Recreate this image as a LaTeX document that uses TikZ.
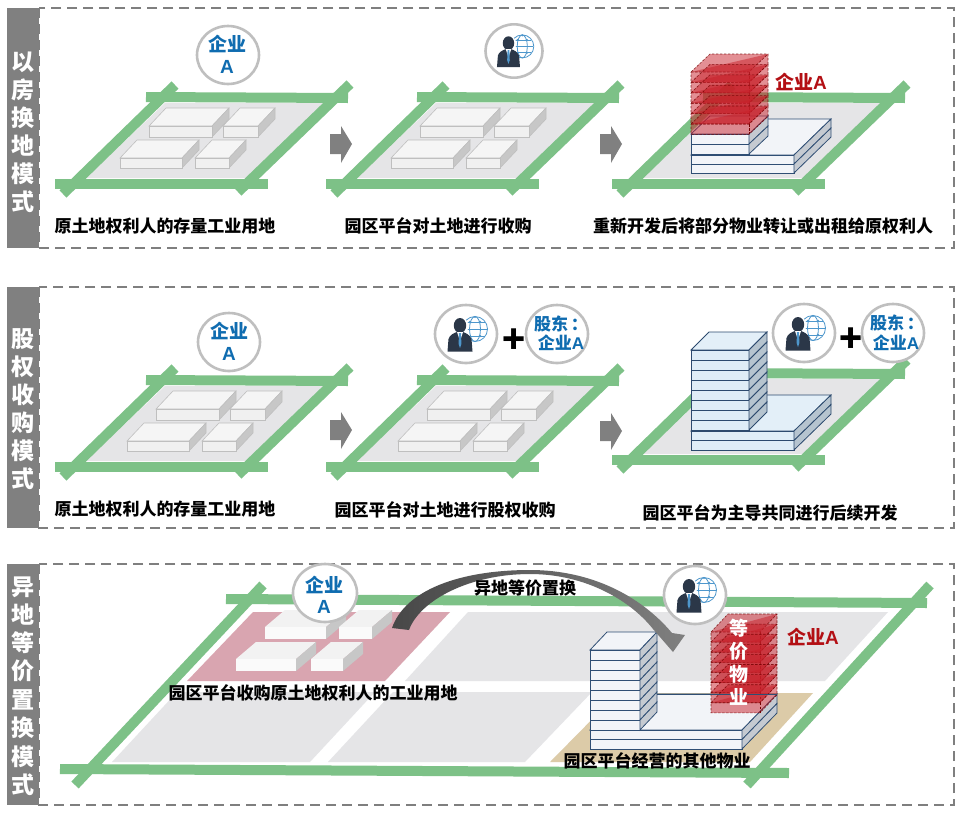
\documentclass[tikz,border=0pt]{standalone}
\usepackage{fontspec}
\setmainfont{Noto Sans CJK SC}
\newfontfamily\lat{Liberation Sans}
\usetikzlibrary{shapes.geometric}
\definecolor{road}{HTML}{7DC187}
\definecolor{plategray}{HTML}{E5E5E7}
\definecolor{sidegray}{HTML}{808080}
\definecolor{dashgray}{HTML}{7F7F7F}
\definecolor{blueT}{HTML}{0F6CB0}
\definecolor{redT}{HTML}{B30F14}
\definecolor{pinkL}{HTML}{D9A5B0}
\definecolor{tanL}{HTML}{DCCBA8}
\definecolor{bl-f}{HTML}{DFEDF7}
\definecolor{bl-t}{HTML}{E3EFF8}
\definecolor{bl-s}{HTML}{B6C4CF}
\definecolor{bl-l}{HTML}{2C4A6E}
\definecolor{wh-f}{HTML}{F2F4F8}
\definecolor{wh-t}{HTML}{F2F4F8}
\definecolor{wh-s}{HTML}{C5CAD1}
\definecolor{wh-l}{HTML}{2F4E74}
\definecolor{redF}{HTML}{C8202A}
\definecolor{person}{HTML}{2B3748}
\definecolor{globeC}{HTML}{4E97CC}
\tikzset{
  x=1pt,y=-1pt,
  roadln/.style={draw=road,line width=10pt},
  frameln/.style={draw=dashgray,line width=1.3pt,dash pattern=on 10pt off 6pt},
  sidebar/.style={fill=sidegray,draw=none},
  sidetxt/.style={text=white,font=\fontsize{23}{23}\selectfont\bfseries,inner sep=0pt},
  lbl/.style={text=black,font=\fontsize{17}{17}\selectfont\bfseries,inner sep=0pt},
  bluetxt/.style={text=blueT,font=\fontsize{19}{19}\selectfont\bfseries,inner sep=0pt},
  bluesm/.style={text=blueT,font=\fontsize{17}{17}\selectfont\bfseries,inner sep=0pt},
  redtxt/.style={text=redT,font=\fontsize{19}{19}\selectfont\bfseries,inner sep=0pt},
  plustxt/.style={text=black,font=\fontsize{38}{38}\selectfont\bfseries,inner sep=0pt},
  ring/.style={ellipse,draw=black!25,line width=2.6pt,fill=white,inner sep=0pt},
  flow/.style={fill=sidegray,draw=none},
  whface/.style={fill=#1,draw=black!25,line width=.6pt},
  redface/.style={fill=redF,fill opacity=.5,draw=red!45!black,draw opacity=.8,line width=.6pt,dash pattern=on 2.5pt off 1.5pt},
}
\newcommand{\plate}[2]{%
  \begin{scope}[shift={(#1,#2)}]
    \fill[plategray] (86,178)--(247,178)--(325,103)--(165,103)--cycle;
    \draw[roadln] (146,97)--(348,98);
    \draw[roadln] (55,184)--(268,184);
    \draw[roadln] (63,194)--(175,85);
    \draw[roadln] (238,192)--(350,84);
  \end{scope}}
\newcommand{\lowbox}[4]{%
  \filldraw[whface=black!4] (#1,#3)--({#1+17},{#3-18})--({#2+17},{#3-18})--(#2,#3)--cycle;
  \filldraw[whface=black!22] (#2,#3)--({#2+17},{#3-18})--({#2+17},{#4-18})--(#2,#4)--cycle;
  \filldraw[whface=black!6] (#1,#3) rectangle (#2,#4);}
\newcommand{\lots}[2]{%
  \begin{scope}[shift={(#1,#2)}]
    \lowbox{149}{212}{126}{137}\lowbox{223}{258}{126}{137}
    \lowbox{120}{182}{158}{168}\lowbox{195}{229}{158}{168}
  \end{scope}}
\newcommand{\cub}[8]{%
  \filldraw[fill=#8-t,draw=#8-l,line width=.8pt] (#1,#5)--({#1+#3},{#5-#4})--({#2+#3},{#5-#4})--(#2,#5)--cycle;
  \foreach \i in {1,...,#6}{%
    \filldraw[fill=#8-f,draw=#8-l,line width=.8pt] (#1,{#5+(\i-1)*#7}) rectangle (#2,{#5+\i*#7});
    \filldraw[fill=#8-s,draw=#8-l,line width=.8pt] (#2,{#5+(\i-1)*#7})--({#2+#3},{#5+(\i-1)*#7-#4})--({#2+#3},{#5+\i*#7-#4})--(#2,{#5+\i*#7})--cycle;
  }}
\newcommand{\redstack}[7]{%
  \foreach \i in {1,...,#6}{%
    \path[redface] (#1,{#5+(\i-1)*#7})--({#1+#3},{#5+(\i-1)*#7-#4})--({#2+#3},{#5+(\i-1)*#7-#4})--({#2+#3},{#5+\i*#7-#4})--(#2,{#5+\i*#7})--(#1,{#5+\i*#7})--cycle;
    \path[redface] (#1,{#5+(\i-1)*#7})--(#2,{#5+(\i-1)*#7})--({#2+#3},{#5+(\i-1)*#7-#4});
    \draw[red!45!black,line width=.6pt,dash pattern=on 2.5pt off 1.5pt] (#2,{#5+(\i-1)*#7})--(#2,{#5+\i*#7});
  }}
\newcommand{\personicon}[4]{%
  \node[ring,minimum width=#3*62pt,minimum height=#3*58pt] (#4) at (#1,#2) {};
  \begin{scope}[shift={(#1,#2)},scale=#3]
    \begin{scope}[globeC,line width=.8pt]
      \draw (9,-5) circle[radius=12.5];
      \draw (9,-5) ellipse[x radius=5.5,y radius=12.5];
      \draw (-3,-5)--(21,-5) (-1,-12)--(19,-12) (-1,2)--(19,2);
      \fill (9,-17) circle[radius=1.2] (14,-12) circle[radius=1.3] (14,2) circle[radius=1.3] (4,-12) circle[radius=1.3];
    \end{scope}
    \fill[white] (-6,-8) circle[radius=8.5];
    \fill[person] (-6,-8.5) ellipse[x radius=6.2,y radius=7.5];
    \fill[person] (-18.5,17.5) -- (-17.5,5) .. controls (-16.5,1) and (-12,-1) .. (-9,-2) -- (-3,-2) .. controls (0,-1) and (4,1) .. (5.5,5) -- (6.5,17.5) -- cycle;
    \fill[white] (-9,-2)--(-6,7)--(-3,-2)--cycle;
    \fill[globeC] (-7,-1)--(-5,-1)--(-4.6,10)--(-6,14)--(-7.4,10)--cycle;
  \end{scope}}
\newcommand{\flowarrow}[2]{%
  \fill[flow] (#1,{#2-10})--({#1+11},{#2-10})--({#1+11},{#2-18})--({#1+22},#2)--({#1+11},{#2+19})--({#1+11},{#2+10})--(#1,{#2+10})--cycle;}
\newcommand{\vtext}[3]{%
  \foreach \yy/\cc [count=\n] in {#3}{\node[sidetxt] (#1\n) at (#2,\yy) {\cc};}}
\newcommand{\soft}[4]{%
  \fill[black!5] (#1,#3)--({#1+20},{#3-17})--({#2+20},{#3-17})--(#2,#3)--cycle;
  \fill[black!22] (#2,#3)--({#2+20},{#3-17})--({#2+20},{#4-17})--(#2,#4)--cycle;
  \fill[black!2] (#1,#3) rectangle (#2,#4);}
\begin{document}
\begin{tikzpicture}
\useasboundingbox (0,0) rectangle (962,815);
\fill[white] (0,0) rectangle (962,815);
\draw[frameln] (39,8) rectangle (954,248);
\draw[frameln] (39,287) rectangle (954,528);
\draw[frameln] (39,564) rectangle (954,805);
\fill[sidebar] (7,8) rectangle (39,248);
\fill[sidebar] (7,287) rectangle (39,528);
\fill[sidebar] (7,564) rectangle (39,805);
\vtext{sa}{23}{62/以,90/房,118/换,146/地,174/模,202/式}
\vtext{sb}{23}{339/股,367/权,395/收,423/购,451/模,479/式}
\vtext{sc}{23}{587/异,615/地,643/等,671/价,700/置,728/换,757/模,785/式}
% row 1
\plate{0}{0}\lots{0}{0}
\plate{271}{0}\lots{271}{0}
\plate{557}{0}
\flowarrow{330}{144}
\flowarrow{600}{144}
\cub{691}{794}{37}{36}{155}{2}{9}{wh}
\cub{691}{749}{19}{18}{134}{2}{10}{wh}
\redstack{691}{749}{19}{18}{72}{6}{10.4}
\node[ring,minimum width=62pt,minimum height=58pt] (a1) at (228,55) {};
\node[bluetxt] (a1t) at (227,44) {企业};
\node[bluetxt] (a1a) at (227,67) {\lat A};
\personicon{514}{51}{.92}{a2}
\node[redtxt] (a3) at (801,82) {企业{\lat A}};
\node[lbl] (l11) at (165,226) {原土地权利人的存量工业用地};
\node[lbl] (l12) at (438,226) {园区平台对土地进行收购};
\node[lbl] (l13) at (763,226) {重新开发后将部分物业转让或出租给原权利人};
% row 2
\plate{0}{283}\lots{7}{283}
\plate{271}{283}\lots{278}{283}
\plate{557}{276}
\flowarrow{330}{430}
\flowarrow{600}{431}
\cub{691}{794}{37}{36}{431}{2}{9.5}{bl}
\cub{691}{749}{18}{18}{350}{8}{10}{bl}
\node[ring,minimum width=62pt,minimum height=58pt] (b1) at (229,342) {};
\node[bluetxt] (b1t) at (229,331) {企业};
\node[bluetxt] (b1a) at (229,354) {\lat A};
\personicon{466}{334}{1}{b2}
\node[plustxt] (b2p) at (514,341) {+};
\node[ring,minimum width=62pt,minimum height=58pt] (b3) at (557,334) {};
\node[bluesm] (b3t) at (561,324) {股东\kern3pt：};
\node[bluesm] (b3a) at (561,343) {企业{\lat A}};
\personicon{804}{333}{1}{b4}
\node[plustxt] (b4p) at (851,340) {+};
\node[ring,minimum width=62pt,minimum height=58pt] (b5) at (893,333) {};
\node[bluesm] (b5t) at (897,323) {股东\kern3pt：};
\node[bluesm] (b5a) at (896,343) {企业{\lat A}};
\node[lbl] (l21) at (165,509) {原土地权利人的存量工业用地};
\node[lbl] (l22) at (445,510) {园区平台对土地进行股权收购};
\node[lbl] (l23) at (770,513) {园区平台为主导共同进行后续开发};
% row 3
\fill[plategray] (468,612)--(888,612)--(825,681)--(405,681)--cycle;
\fill[plategray] (177,692)--(375,692)--(310,762)--(112,762)--cycle;
\fill[plategray] (393,692)--(592,692)--(525,762)--(328,762)--cycle;
\fill[tanL] (618,693)--(813,693)--(750,762)--(550,762)--cycle;
\fill[pinkL] (253,612)--(450,612)--(385,681)--(187,681)--cycle;
\draw[roadln] (226,599)--(927,603);
\draw[roadln] (60,769)--(789,773);
\draw[roadln] (75,785)--(263,585);
\draw[roadln] (747,785)--(930,585);
\soft{265}{326}{627}{639}\soft{339}{372}{627}{639}
\soft{236}{296}{659}{671}\soft{311}{343}{659}{671}
\cub{590}{742}{35}{36}{730}{2}{9.5}{wh}
\cub{590}{640}{17}{18}{650}{8}{10}{wh}
\redstack{711}{760}{17}{18}{632}{8}{10.1}
\draw[wh-l,line width=.8pt] (657,694)--(777,694);
\path[left color=black!72,middle color=black!40,right color=black!50,shading angle=90]
  (392,628) .. controls (405,590) and (460,570) .. (530,570)
  .. controls (590,570) and (640,595) .. (672,633)
  -- (685,635) -- (673,652) -- (653,629)
  .. controls (630,600) and (585,574) .. (530,574)
  .. controls (470,574) and (420,600) .. (409,630) -- cycle;
\node[ring,minimum width=64pt,minimum height=58pt] (c1) at (325,593) {};
\node[bluetxt] (c1t) at (324,585) {企业};
\node[bluetxt] (c1a) at (324,607) {\lat A};
\personicon{695}{595}{1}{c2}
\node[redtxt] (c3) at (813,637) {企业{\lat A}};
\node[text=white,font=\fontsize{19}{22}\selectfont\bfseries,inner sep=0pt,align=center] (c4) at (739,662) {等\\[1pt]价\\[1pt]物\\[1pt]业};
\node[lbl] (l31) at (313,693) {园区平台收购原土地权利人的工业用地};
\node[lbl] (l32) at (657,761) {园区平台经营的其他物业};
\node[lbl] (l33) at (525,588) {异地等价置换};
\end{tikzpicture}
\end{document}
